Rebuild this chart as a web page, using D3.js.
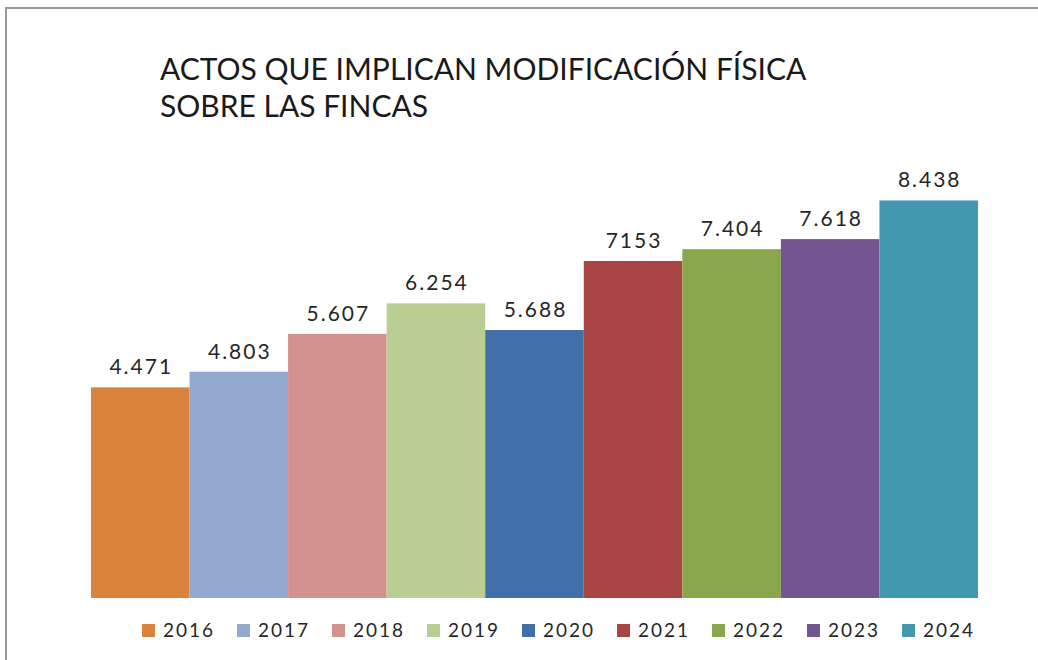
<!DOCTYPE html>
<html>
<head>
<meta charset="utf-8">
<script src="https://cdn.jsdelivr.net/npm/d3@7"></script>
<style>
  body { margin: 0; background: #fff; }
  svg { display: block; }
</style>
</head>
<body>
<div id="chart"></div>
<script>
// data
var years = ["2016", "2017", "2018", "2019", "2020", "2021", "2022", "2023", "2024"];
var values = [4471, 4803, 5607, 6254, 5688, 7153, 7404, 7618, 8438];
var labels = ["4.471", "4.803", "5.607", "6.254", "5.688", "7153", "7.404", "7.618", "8.438"];
var colors = ["#d9833c", "#93a9cf", "#d39190", "#b9ce93", "#4170a8", "#a84542", "#8aa64d", "#735690", "#4198af"];
var titleLines = ["ACTOS QUE IMPLICAN MODIFICACIÓN FÍSICA", "SOBRE LAS FINCAS"];

var width = 1038, height = 660;
var margin = { top: 174, right: 60, bottom: 62, left: 91 };

var svg = d3.select("#chart").append("svg")
    .attr("width", width)
    .attr("height", height);

// frame (only top and left edges show in the picture)
svg.append("line")
    .attr("x1", 5).attr("x2", width).attr("y1", 8).attr("y2", 8)
    .attr("stroke", "#9a9a9a").attr("stroke-width", 2);
svg.append("line")
    .attr("x1", 6).attr("x2", 6).attr("y1", 8).attr("y2", height)
    .attr("stroke", "#9a9a9a").attr("stroke-width", 2);

svg.append("text")
    .attr("x", 160)
    .attr("y", 80)
    .attr("font-family", "Lato, 'Open Sans', sans-serif")
    .attr("font-size", 30)
    .attr("fill", "#1a1a1a")
    .selectAll("tspan")
    .data(titleLines).enter()
    .append("tspan")
    .attr("x", 160)
    .attr("dy", function(d, i) { return i === 0 ? 0 : 37; })
    .text(function(d) { return d; });

var x = d3.scaleBand()
    .domain(years)
    .range([margin.left, 978])
    .padding(0);

var y = d3.scaleLinear()
    .domain([0, 9000])
    .range([height - margin.bottom, margin.top]);

svg.append("g")
    .selectAll("rect")
    .data(values).enter()
    .append("rect")
    .attr("x", function(d, i) { return x(years[i]); })
    .attr("y", function(d) { return y(d); })
    .attr("width", x.bandwidth())
    .attr("height", function(d) { return y(0) - y(d); })
    .attr("fill", function(d, i) { return colors[i]; });

svg.append("g")
    .selectAll("text")
    .data(values).enter()
    .append("text")
    .attr("x", function(d, i) { return x(years[i]) + x.bandwidth() / 2 + 1; })
    .attr("y", function(d) { return y(d) - 13; })
    .attr("text-anchor", "middle")
    .attr("font-family", "Lato, 'Open Sans', sans-serif")
    .attr("font-size", 21)
    .attr("letter-spacing", 2)
    .attr("fill", "#262626")
    .text(function(d, i) { return labels[i]; });

// legend
var legend = svg.append("g")
    .selectAll("g")
    .data(years).enter()
    .append("g")
    .attr("transform", function(d, i) { return "translate(" + (142 + i * 95) + ",624)"; });

legend.append("rect")
    .attr("width", 13)
    .attr("height", 13)
    .attr("fill", function(d, i) { return colors[i]; });

legend.append("text")
    .attr("x", 21)
    .attr("y", 13)
    .attr("font-family", "Lato, 'Open Sans', sans-serif")
    .attr("font-size", 19)
    .attr("letter-spacing", 2)
    .attr("fill", "#262626")
    .text(function(d) { return d; });
</script>
</body>
</html>
